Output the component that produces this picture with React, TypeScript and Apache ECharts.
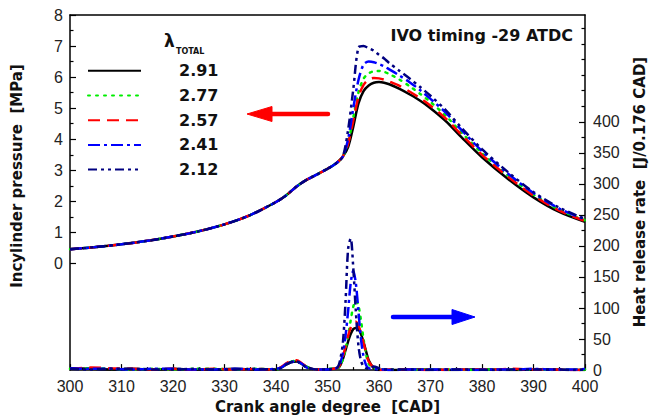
import React, { useEffect, useRef } from "react";
import * as echarts from "echarts";

// ---------- data ----------
const lambdaNames = ["2.91", "2.77", "2.57", "2.41", "2.12"];
const seriesColors = ["#000000", "#00ee00", "#ff0000", "#0000ff", "#000080"];

// Pressure (MPa) vs crank angle
const pCad = [300, 305, 310, 315, 320, 325, 330, 335, 340, 342, 344, 346, 348, 350, 351, 352, 353,
  354, 355, 356, 357, 358, 359, 360, 361, 362, 364, 366, 368, 370, 373, 376, 380, 385, 390, 395, 400];
const pCommon = [0.46, 0.53, 0.62, 0.73, 0.87, 1.04, 1.26, 1.56, 1.98, 2.2, 2.48, 2.7, 2.87, 3.05, 3.15, 3.27, 3.45];
const p291 = [3.75, 4.4, 5.15, 5.55, 5.73, 5.82, 5.84, 5.82, 5.77, 5.62, 5.44, 5.24, 5.0, 4.58, 4.07, 3.42, 2.73, 2.13, 1.66, 1.34];
const p277 = [3.9, 4.7, 5.5, 5.95, 6.12, 6.19, 6.2, 6.17, 6.1, 5.92, 5.7, 5.46, 5.2, 4.75, 4.22, 3.55, 2.84, 2.22, 1.73, 1.39];
const p257 = [3.85, 4.6, 5.35, 5.75, 5.92, 5.97, 5.96, 5.92, 5.86, 5.72, 5.53, 5.32, 5.08, 4.66, 4.15, 3.5, 2.8, 2.19, 1.7, 1.37];
const p241 = [4.0, 5.0, 5.9, 6.4, 6.5, 6.48, 6.42, 6.35, 6.25, 6.05, 5.83, 5.58, 5.3, 4.85, 4.3, 3.62, 2.9, 2.27, 1.77, 1.42];
const p212 = [4.3, 5.6, 6.95, 7.0, 6.93, 6.85, 6.72, 6.6, 6.45, 6.2, 5.95, 5.68, 5.4, 4.93, 4.37, 3.68, 2.95, 2.3, 1.8, 1.44];

// Heat release rate (J/0.176 CAD) vs crank angle
const hCad = [300, 304, 308, 312, 316, 320, 324, 328, 332, 336, 340,
  341, 342, 343, 344, 345, 346, 347, 348, 349, 350, 351, 352,
  352.5, 353, 353.5, 354, 354.5, 355, 355.5, 356, 356.5, 357, 357.5, 358,
  359, 360, 361, 362, 366, 370, 374, 378, 382, 386, 390, 394, 398, 400];
const h291 = [3, 2, 1, 2, 1, 2, 1, 1, 2, 1, 1,
  4, 9, 13, 14, 10, 5, 2, 1, 1, 1, 2, 3,
  8, 18, 32, 46, 58, 66, 68, 66, 58, 45, 30, 16,
  3, 0, 1, 0, 1, 1, 0, 1, 1, 0, 1, 1, 0, 1];
const h277 = [2, 3, 2, 1, 2, 1, 2, 2, 1, 2, 1,
  4, 10, 14, 15, 10, 5, 2, 1, 1, 2, 2, 3,
  8, 18, 34, 55, 80, 102, 112, 104, 80, 50, 25, 10,
  3, 2, 1, 1, 0, 1, 1, 0, 1, 1, 1, 0, 1, 1];
const h257 = [2, 4, 3, 2, 1, 2, 1, 2, 1, 2, 1,
  5, 11, 15, 16, 11, 5, 2, 1, 1, 1, 2, 4,
  10, 22, 38, 55, 68, 76, 78, 72, 60, 44, 28, 14,
  4, 1, 0, 1, 1, 0, 1, 1, 1, 2, 1, 1, 0, 1];
const h241 = [3, 2, 2, 1, 2, 2, 1, 1, 2, 1, 2,
  4, 10, 13, 14, 10, 4, 2, 1, 1, 1, 2, 4,
  12, 28, 55, 95, 140, 160, 140, 95, 50, 22, 8, 3,
  2, 1, 1, 0, 1, 1, 1, 0, 1, 1, 2, 1, 1, 2];
const h212 = [2, 1, 2, 2, 1, 1, 2, 1, 1, 2, 1,
  3, 9, 13, 14, 9, 4, 2, 1, 1, 1, 2, 5,
  18, 45, 110, 195, 212, 165, 95, 40, 15, 6, 3, 2,
  6, 3, 1, 1, 1, 0, 1, 1, 0, 1, 1, 1, 0, 1];

// Axis ticks / labels
const xMin = 300;
const xMax = 400;
const xStep = 10;
const pMin = -3.43;
const pMax = 8;
const pLabels = [0, 1, 2, 3, 4, 5, 6, 7, 8];
const pMinorTicks = [0.5, 1.5, 2.5, 3.5, 4.5, 5.5, 6.5, 7.5];
const hMin = 0;
const hMax = 572;
const hLabels = [0, 50, 100, 150, 200, 250, 300, 350, 400];
const hMinorTicks = [25, 75, 125, 175, 225, 275, 325, 375, 425, 450, 475, 500, 525, 550];

const pressureSets = [
  [...pCommon, ...p291],
  [...pCommon, ...p277],
  [...pCommon, ...p257],
  [...pCommon, ...p241],
  [...pCommon, ...p212],
];
const hrrSets = [h291, h277, h257, h241, h212];
const dashTypes: any[] = ["solid", [2, 6], [12, 7], [12, 4, 3, 4], [9, 4, 3, 4, 3, 4]];

const FONT = "Liberation Sans";
const BOLD = "DejaVu Sans";

export default function App() {
  const ref = useRef<HTMLDivElement>(null);
  useEffect(() => {
    if (!ref.current) return;
    const chart = echarts.init(ref.current, undefined, { renderer: "svg" });
    const axisLine = { show: true, onZero: false, lineStyle: { color: "#000", width: 1.5 } };
    const tickLine = { color: "#000", width: 1.2 };
    const labelStyle = { color: "#222", fontSize: 16, fontFamily: FONT };

    const series: any[] = [];
    lambdaNames.forEach((name, i) => {
      series.push({
        name,
        type: "line",
        xAxisIndex: 0,
        yAxisIndex: 0,
        symbol: "none",
        smooth: 0.3,
        data: pCad.map((x, k) => [x, pressureSets[i][k]]),
        lineStyle: { color: seriesColors[i], width: 2.5, type: dashTypes[i], cap: i === 1 ? "round" : "butt" },
        itemStyle: { color: seriesColors[i] },
        z: 2 + i,
      });
    });
    lambdaNames.forEach((name, i) => {
      series.push({
        name,
        type: "line",
        xAxisIndex: 0,
        yAxisIndex: 1,
        symbol: "none",
        smooth: 0.3,
        data: hCad.map((x, k) => [x, hrrSets[i][k]]),
        lineStyle: { color: seriesColors[i], width: 2.5, type: dashTypes[i], cap: i === 1 ? "round" : "butt" },
        itemStyle: { color: seriesColors[i] },
        z: 2 + i,
      });
    });

    chart.setOption({
      animation: false,
      backgroundColor: "#ffffff",
      grid: { left: 70, right: 66, top: 15, bottom: 46, containLabel: false },
      legend: {
        data: lambdaNames,
        orient: "vertical",
        left: 87,
        top: 62.8,
        padding: 0,
        itemWidth: 53,
        itemHeight: 14,
        itemGap: 8.7,
        selectedMode: false,
        itemStyle: { opacity: 0 },
        textStyle: {
          color: "#111",
          fontSize: 16,
          fontWeight: "bold",
          fontFamily: BOLD,
          padding: [0, 0, 0, 33],
        },
      },
      xAxis: [
        {
          type: "value",
          min: xMin,
          max: xMax,
          interval: xStep,
          position: "bottom",
          axisLine,
          axisTick: { show: true, inside: true, length: 6, lineStyle: tickLine },
          minorTick: { show: true, splitNumber: 2, length: 3, lineStyle: tickLine },
          axisLabel: { ...labelStyle, margin: 8 },
          splitLine: { show: false },
          name: "Crank angle degree  [CAD]",
          nameLocation: "middle",
          nameGap: 25,
          nameTextStyle: { color: "#111", fontSize: 15, fontWeight: "bold", fontFamily: BOLD },
        },
        {
          type: "value",
          min: xMin,
          max: xMax,
          position: "top",
          axisLine,
          axisTick: { show: false },
          axisLabel: { show: false },
          splitLine: { show: false },
        },
      ],
      yAxis: [
        {
          type: "value",
          min: pMin,
          max: pMax,
          position: "left",
          axisLine,
          axisTick: { show: true, inside: true, length: 6, customValues: pLabels, lineStyle: tickLine },
          axisLabel: { ...labelStyle, margin: 7, customValues: pLabels },
          splitLine: { show: false },
        },
        {
          type: "value",
          min: hMin,
          max: hMax,
          position: "right",
          axisLine,
          axisTick: { show: true, inside: true, length: 6, customValues: hLabels, lineStyle: tickLine },
          axisLabel: { ...labelStyle, margin: 8, customValues: hLabels },
          splitLine: { show: false },
        },
        {
          type: "value",
          min: pMin,
          max: pMax,
          position: "left",
          axisLine: { show: false },
          axisTick: { show: true, inside: true, length: 3.5, customValues: pMinorTicks, lineStyle: tickLine },
          axisLabel: { show: false },
          splitLine: { show: false },
        },
        {
          type: "value",
          min: hMin,
          max: hMax,
          position: "right",
          axisLine: { show: false },
          axisTick: { show: true, inside: true, length: 3.5, customValues: hMinorTicks, lineStyle: tickLine },
          axisLabel: { show: false },
          splitLine: { show: false },
        },
      ],
      graphic: [
        {
          type: "text",
          x: 573,
          y: 35,
          style: {
            text: "IVO timing -29 ATDC",
            fill: "#111",
            font: `bold 16px "${BOLD}"`,
            align: "right",
            verticalAlign: "middle",
          },
        },
        {
          type: "text",
          x: 164,
          y: 41,
          style: { text: "λ", fill: "#111", font: `bold 17px "${BOLD}"`, align: "left", verticalAlign: "middle" },
        },
        {
          type: "text",
          x: 176,
          y: 51.5,
          style: { text: "TOTAL", fill: "#111", font: `bold 8px "${BOLD}"`, align: "left", verticalAlign: "middle" },
        },
        {
          type: "text",
          x: 17,
          y: 176,
          rotation: Math.PI / 2,
          style: {
            text: "Incylinder pressure  [MPa]",
            fill: "#111",
            font: `bold 15px "${BOLD}"`,
            align: "center",
            verticalAlign: "middle",
          },
        },
        {
          type: "text",
          x: 640,
          y: 192,
          rotation: Math.PI / 2,
          style: {
            text: "Heat release rate  [J/0.176 CAD]",
            fill: "#111",
            font: `bold 15px "${BOLD}"`,
            align: "center",
            verticalAlign: "middle",
          },
        },
        // red arrow (left)
        {
          type: "line",
          shape: { x1: 268, y1: 114, x2: 328, y2: 114 },
          style: { stroke: "#ff0000", lineWidth: 4.5, lineCap: "round" },
        },
        {
          type: "polygon",
          shape: { points: [[247, 114], [272, 106.5], [272, 121.5]] },
          style: { fill: "#ff0000", stroke: "#ff0000", lineWidth: 1, lineJoin: "round" },
        },
        // blue arrow (right)
        {
          type: "line",
          shape: { x1: 393, y1: 317, x2: 456, y2: 317 },
          style: { stroke: "#0000ff", lineWidth: 4.5, lineCap: "round" },
        },
        {
          type: "polygon",
          shape: { points: [[475, 317], [452, 309.5], [452, 324.5]] },
          style: { fill: "#0000ff", stroke: "#0000ff", lineWidth: 1, lineJoin: "round" },
        },
      ],
      series,
    });
    return () => chart.dispose();
  }, []);
  return (
    <div
      ref={ref}
      style={{ position: "fixed", left: 0, top: 0, width: 651, height: 419, background: "#fff" }}
    />
  );
}
